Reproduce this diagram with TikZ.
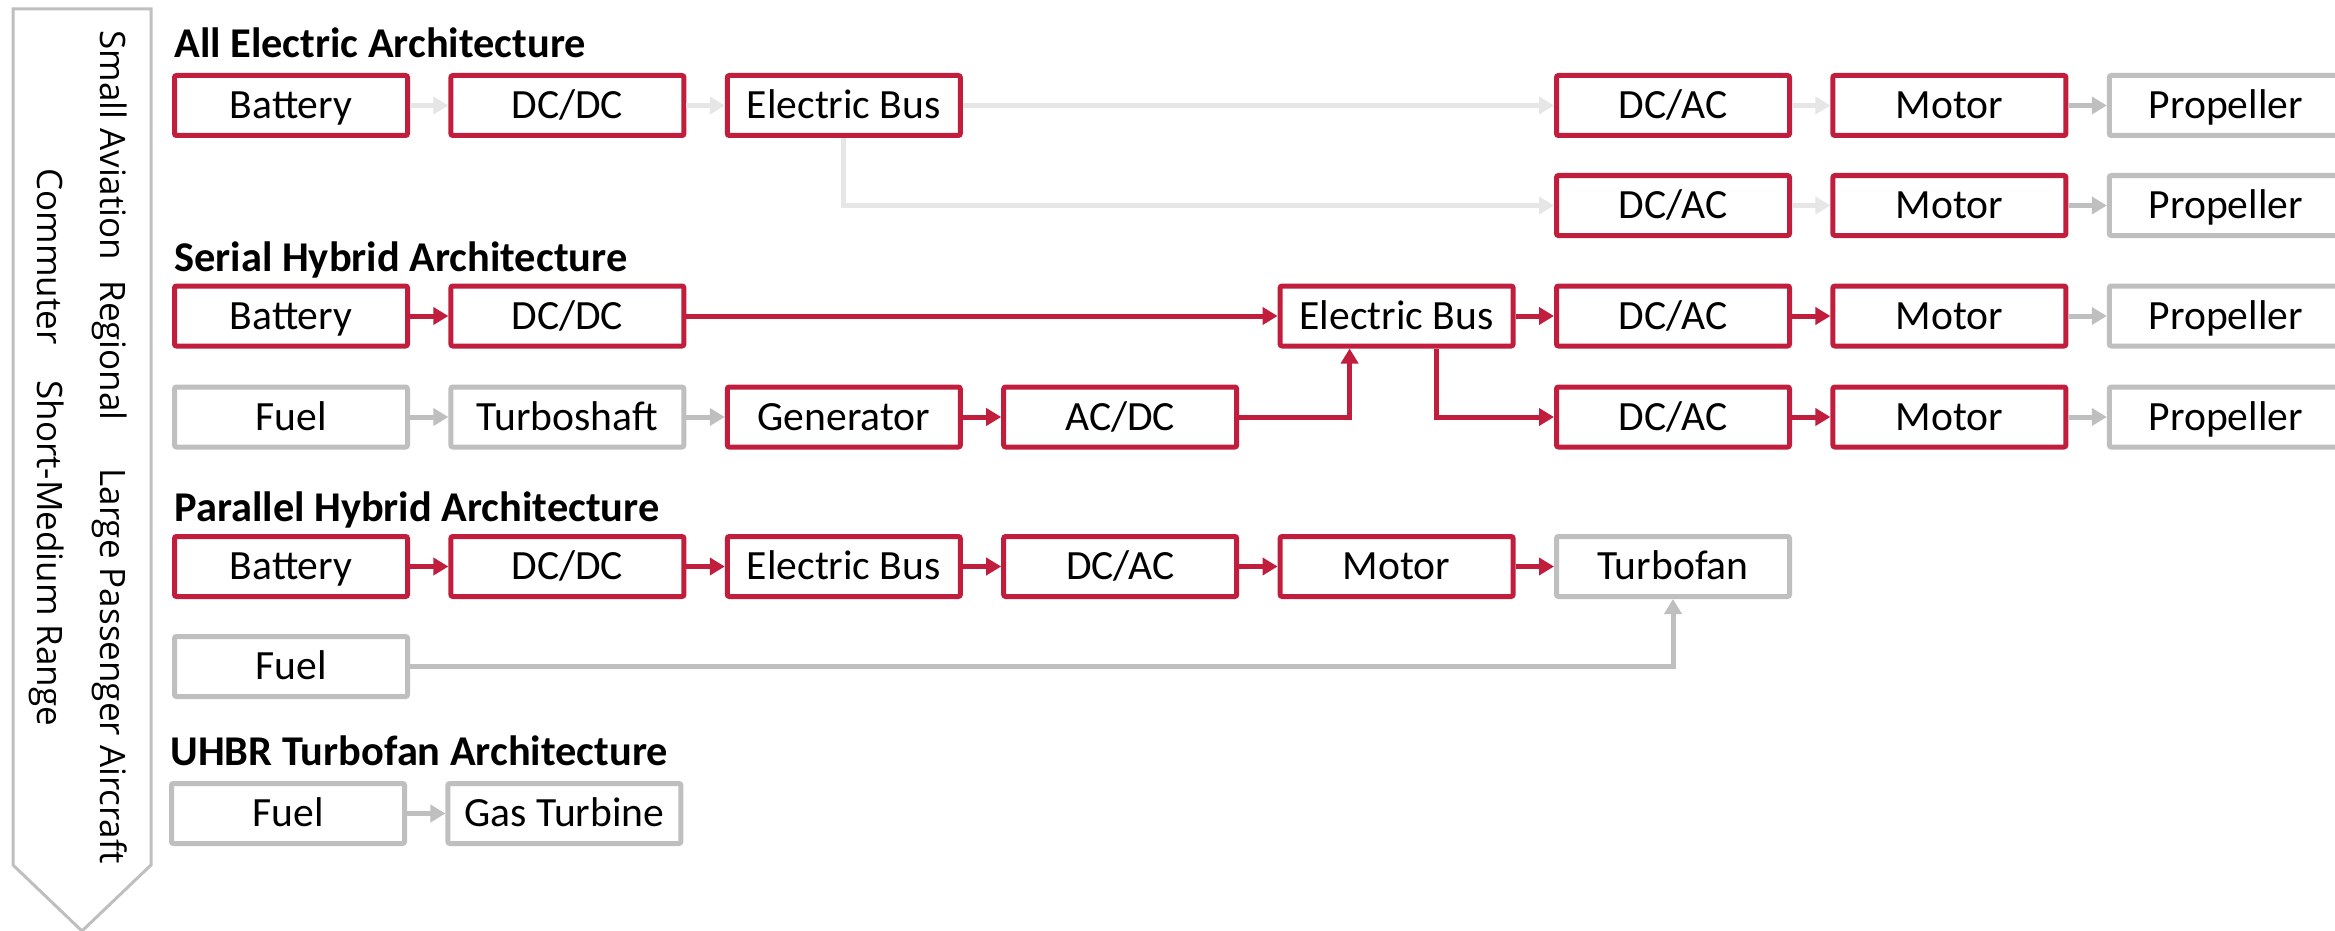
\documentclass[tikz,border=0pt]{standalone}
\usepackage{fontspec}
\setmainfont{Carlito}
\newfontfamily\sidefont{Open Sans}
\usetikzlibrary{arrows.meta,calc}
\definecolor{myred}{RGB}{193,30,62}
\definecolor{mygrey}{RGB}{191,191,191}
\definecolor{mylight}{RGB}{230,230,230}
\begin{document}
\begin{tikzpicture}[x=0.5pt,y=-0.5pt,
  box/.style={line width=2.5pt, minimum width=116.5pt, minimum height=30pt, inner sep=0pt, rounded corners=1pt, fill=white, text height=13.1pt, text depth=0pt, font=\fontsize{20.8}{25}\selectfont},
  rbox/.style={box, draw=myred},
  gbox/.style={box, draw=mygrey},
  arr/.style={line width=2.5pt, -{Triangle[length=7.5pt,width=8.5pt]}},
  rarr/.style={arr, draw=myred},
  garr/.style={arr, draw=mygrey},
  larr/.style={arr, draw=mylight},
  head/.style={anchor=base west, inner sep=0pt, font=\fontsize{21.2}{25}\selectfont\bfseries},
  side/.style={anchor=base west, inner sep=0pt, rotate=-90, font=\sidefont\fontsize{17.5}{21}\selectfont}
]
\clip (0,0) rectangle (2335,931);
\fill[white] (0,0) rectangle (2335,931);
% side banner
\draw[mygrey, line width=1.5pt, line join=miter] (13,9) -- (151,9) -- (151,865) -- (82,931) -- (13,865) -- cycle;
\node[side] (sa) at (100,30) {Small Aviation};
\node[side] (rg) at (100,280) {Regional};
\node[side] (lp) at (100,468) {Large Passenger Aircraft};
\node[side] (cm) at (37,168) {Commuter};
\node[side] (sm) at (37,380) {Short-Medium Range};
% headings
\node[head] (h1) at (174,58) {All Electric Architecture};
\node[head] (h2) at (174,271) {Serial Hybrid Architecture};
\node[head] (h3) at (174,521) {Parallel Hybrid Architecture};
\node[head] (h4) at (170,765) {UHBR Turbofan Architecture};
% row 1
\node[rbox] (bat1) at (291,105.5) {Battery};
\node[rbox] (dcdc1) at (567.4,105.5) {DC/DC};
\node[rbox] (bus1) at (843.8,105.5) {Electric Bus};
\node[rbox] (dcac1) at (1673,105.5) {DC/AC};
\node[rbox] (mot1) at (1949.4,105.5) {Motor};
\node[gbox] (prop1) at (2225.8,105.5) {Propeller};
% row 2
\node[rbox] (dcac2) at (1673,205.5) {DC/AC};
\node[rbox] (mot2) at (1949.4,205.5) {Motor};
\node[gbox] (prop2) at (2225.8,205.5) {Propeller};
% row 3
\node[rbox] (bat3) at (291,316) {Battery};
\node[rbox] (dcdc3) at (567.4,316) {DC/DC};
\node[rbox] (bus3) at (1396.6,316) {Electric Bus};
\node[rbox] (dcac3) at (1673,316) {DC/AC};
\node[rbox] (mot3) at (1949.4,316) {Motor};
\node[gbox] (prop3) at (2225.8,316) {Propeller};
% row 4
\node[gbox] (fuel4) at (291,417) {Fuel};
\node[gbox] (turbo4) at (567.4,417) {Turboshaft};
\node[rbox] (gen4) at (843.8,417) {Generator};
\node[rbox] (acdc4) at (1120.2,417) {AC/DC};
\node[rbox] (dcac4) at (1673,417) {DC/AC};
\node[rbox] (mot4) at (1949.4,417) {Motor};
\node[gbox] (prop4) at (2225.8,417) {Propeller};
% row 5
\node[rbox] (bat5) at (291,566.5) {Battery};
\node[rbox] (dcdc5) at (567.4,566.5) {DC/DC};
\node[rbox] (bus5) at (843.8,566.5) {Electric Bus};
\node[rbox] (dcac5) at (1120.2,566.5) {DC/AC};
\node[rbox] (mot5) at (1396.6,566.5) {Motor};
\node[gbox] (tf5) at (1673,566.5) {Turbofan};
% row 6
\node[gbox] (fuel6) at (291,666.5) {Fuel};
% row 7
\node[gbox] (fuel7) at (288,813.5) {Fuel};
\node[gbox] (gt7) at (564.4,813.5) {Gas Turbine};
% connectors row 1-2
\draw[larr] (bat1.east) -- (dcdc1.west);
\draw[larr] (dcdc1.east) -- (bus1.west);
\draw[larr] (bus1.east) -- (dcac1.west);
\draw[larr] (dcac1.east) -- (mot1.west);
\draw[garr] (mot1.east) -- (prop1.west);
\draw[larr] (bus1.south) |- (dcac2.west);
\draw[larr] (dcac2.east) -- (mot2.west);
\draw[garr] (mot2.east) -- (prop2.west);
% connectors row 3-4
\draw[rarr] (bat3.east) -- (dcdc3.west);
\draw[rarr] (dcdc3.east) -- (bus3.west);
\draw[rarr] (bus3.east) -- (dcac3.west);
\draw[rarr] (dcac3.east) -- (mot3.west);
\draw[garr] (mot3.east) -- (prop3.west);
\draw[garr] (fuel4.east) -- (turbo4.west);
\draw[garr] (turbo4.east) -- (gen4.west);
\draw[rarr] (gen4.east) -- (acdc4.west);
\draw[rarr] (acdc4.east) -| ([xshift=-23.5pt]bus3.south);
\draw[rarr] ([xshift=20pt]bus3.south) |- (dcac4.west);
\draw[rarr] (dcac4.east) -- (mot4.west);
\draw[garr] (mot4.east) -- (prop4.west);
% connectors row 5-6
\draw[rarr] (bat5.east) -- (dcdc5.west);
\draw[rarr] (dcdc5.east) -- (bus5.west);
\draw[rarr] (bus5.east) -- (dcac5.west);
\draw[rarr] (dcac5.east) -- (mot5.west);
\draw[rarr] (mot5.east) -- (tf5.west);
\draw[garr] (fuel6.east) -| (tf5.south);
% row 7
\draw[garr] (fuel7.east) -- (gt7.west);
\end{tikzpicture}
\end{document}
